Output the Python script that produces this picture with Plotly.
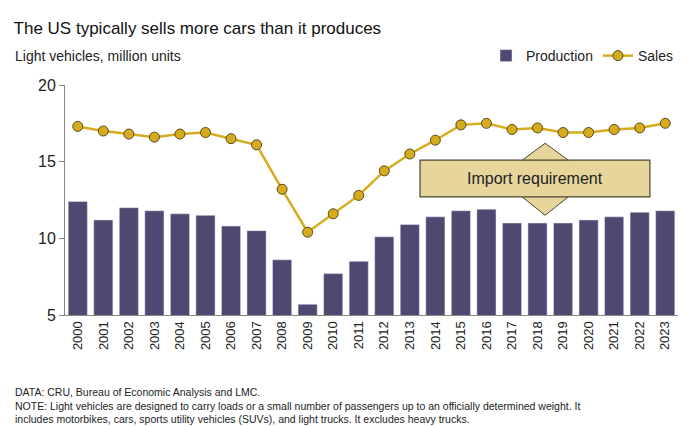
import plotly.graph_objects as go

years = list(range(2000, 2024))
production = [12.4, 11.2, 12.0, 11.8, 11.6, 11.5, 10.8, 10.5, 8.6, 5.7, 7.7, 8.5,
              10.1, 10.9, 11.4, 11.8, 11.9, 11.0, 11.0, 11.0, 11.2, 11.4, 11.7, 11.8]
sales = [17.3, 17.0, 16.8, 16.6, 16.8, 16.9, 16.5, 16.1, 13.2, 10.4, 11.6, 12.8,
         14.4, 15.5, 16.4, 17.4, 17.5, 17.1, 17.2, 16.9, 16.9, 17.1, 17.2, 17.5]

fig = go.Figure()
fig.add_trace(go.Bar(x=years, y=production, name='Production',
                     marker_color='#4f4972', width=0.75))
fig.add_trace(go.Scatter(x=years, y=sales, name='Sales', mode='lines+markers',
                         line=dict(color='#d6ac1e', width=2.5),
                         marker=dict(size=10, color='#d6ac1e',
                                     line=dict(color='#5a4a1a', width=1))))

# double arrow + box
fig.add_shape(type='path', layer='above',
              path='M 2018.3 16.2 L 2019.2 15.1 L 2019.2 12.7 L 2018.3 11.5 L 2017.4 12.7 L 2017.4 15.1 Z',
              fillcolor='#e7d59c', line=dict(color='#4a4430', width=1))
fig.add_shape(type='rect', layer='above', x0=2013.4, x1=2022.4, y0=12.7, y1=15.1,
              fillcolor='#e7d59c', line=dict(color='#4a4430', width=1.2))
fig.add_annotation(x=2017.9, y=13.9, text='Import requirement', showarrow=False,
                   font=dict(size=16, color='#222'))

fig.add_annotation(xref='paper', yref='paper', x=-0.085, y=1.126, xanchor='left',
                   yanchor='middle', text='Light vehicles, million units', showarrow=False,
                   font=dict(size=14, color='#222'))
fig.add_annotation(xref='paper', yref='paper', x=-0.085, y=-0.3, xanchor='left',
                   yanchor='top', align='left', showarrow=False,
                   font=dict(size=10.5, color='#222'),
                   text='DATA: CRU, Bureau of Economic Analysis and LMC.<br>'
                        'NOTE: Light vehicles are designed to carry loads or a small number of passengers up to an officially determined weight. It<br>'
                        'includes motorbikes, cars, sports utility vehicles (SUVs), and light trucks. It excludes heavy trucks.')

fig.update_layout(
    width=698, height=426,
    margin=dict(l=57, r=28, t=77, b=119, autoexpand=False),
    paper_bgcolor='white', plot_bgcolor='white',
    font=dict(family='Arial, Liberation Sans', color='#222'),
    title=dict(text='The US typically sells more cars than it produces', x=0.008, y=0.953,
               xanchor='left', yanchor='middle', font=dict(size=17, color='#111')),
    legend=dict(orientation='h', x=1, xanchor='right', y=1.126, yanchor='middle',
                font=dict(size=14)),
    bargap=0.2,
    xaxis=dict(tickmode='array', tickvals=years, ticktext=[str(y) for y in years],
               tickangle=-90, range=[1999.5, 2023.5], showgrid=False,
               tickfont=dict(size=13), showline=True, linecolor='#888'),
    yaxis=dict(range=[5, 20], dtick=5, showgrid=False, showline=True,
               linecolor='#888', ticks='outside', ticklen=5, tickcolor='#888',
               tickfont=dict(size=16)),
)
fig.write_html('out.html')
